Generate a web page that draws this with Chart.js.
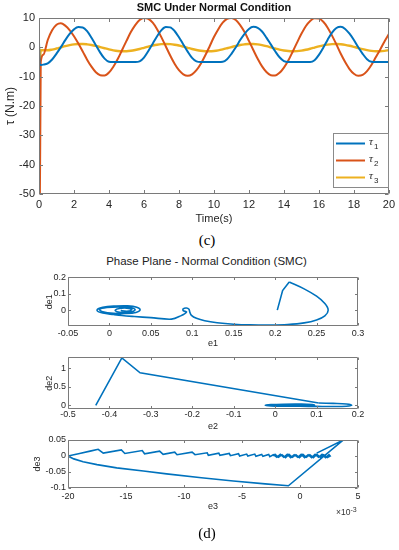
<!DOCTYPE html>
<html>
<head>
<meta charset="utf-8">
<script src="https://cdn.jsdelivr.net/npm/chart.js@4.4.1/dist/chart.umd.min.js"></script>
<style>
  body { margin: 0; background: #fff; }
  #wrap { position: relative; width: 399px; height: 550px; overflow: hidden; font-family: 'Liberation Sans', Arial, sans-serif; }
  canvas { position: absolute; left: 0; }
  .cap { position: absolute; left: 0; width: 414px; text-align: center; font: 15px 'Liberation Serif', serif; line-height: 18px; color: #000; }
  #ppTitle { position: absolute; left: 0; width: 413px; text-align: center; font-size: 11.5px; line-height: 14px; top: 254px; color: #222; }
  #exp { position: absolute; left: 336px; top: 505px; font-size: 8.5px; line-height: 10px; color: #333; }
  #exp sup { font-size: 7px; vertical-align: 3px; }
</style>
</head>
<body>
<div id="wrap">
  <canvas id="torqueChart" width="399" height="228" style="top:0"></canvas>
  <div class="cap" style="top:231px">(c)</div>
  <div id="ppTitle">Phase Plane - Normal Condition (SMC)</div>
  <canvas id="phase1" width="399" height="80" style="top:270px"></canvas>
  <canvas id="phase2" width="399" height="82" style="top:350px"></canvas>
  <canvas id="phase3" width="399" height="82" style="top:432px"></canvas>
  <div id="exp">×10<sup>-3</sup></div>
  <div class="cap" style="top:524px">(d)</div>
</div>
<script>
// ---- (c) torques vs time ----
const tempo = [0, 0.04, 0.1,
  0.25, 0.5, 0.75, 1, 1.25, 1.5, 1.75, 2,
  2.25, 2.5, 2.75, 3, 3.25, 3.5, 3.75, 4,
  4.25, 4.5, 4.75, 5, 5.25, 5.5, 5.75, 6,
  6.25, 6.5, 6.75, 7, 7.25, 7.5, 7.75, 8,
  8.25, 8.5, 8.75, 9, 9.25, 9.5, 9.75, 10,
  10.25, 10.5, 10.75, 11, 11.25, 11.5, 11.75, 12,
  12.25, 12.5, 12.75, 13, 13.25, 13.5, 13.75, 14,
  14.25, 14.5, 14.75, 15, 15.25, 15.5, 15.75, 16,
  16.25, 16.5, 16.75, 17, 17.25, 17.5, 17.75, 18,
  18.25, 18.5, 18.75, 19, 19.25, 19.5, 19.75, 20];

const tau1 = [2, -6, -6,
  -5.9, -5.45, -4.15, -2.16, 0.07, 2.45, 4.57, 6.13,
  6.92, 6.78, 5.5, 3.27, 0.74, -1.8, -3.86, -4.9,
  -5, -5, -5, -5, -5, -5, -4.78, -3.5,
  -1.27, 1.26, 3.8, 5.86, 6.9, 6.8, 5.58, 3.45,
  1.0, -1.46, -3.6, -4.8, -5, -5, -5, -5,
  -5, -4.92, -4.03, -2.22, 0, 2.48, 4.6, 6.28,
  6.98, 6.67, 5.39, 3.32, 1.0, -1.34, -3.39, -4.68,
  -5, -5, -5, -5, -5, -5, -4.38, -2.56,
  -0.1, 2.6, 5.03, 6.6, 6.98, 6.28, 4.64, 2.48,
  0, -2.2, -4.03, -4.92, -5, -5, -5, -5];

const tau2 = [0, -60, -5,
  -2.5, 2.5, 5.8, 7.7, 8.2, 7.4, 5.9, 3.8,
  1.3, -1.4, -4.2, -6.6, -8.5, -9.5, -9.6, -8.6,
  -6.6, -4.0, -0.9, 2.2, 5.2, 7.6, 9.3, 10.0,
  9.7, 8.4, 6.2, 3.4, 0.3, -2.8, -5.6, -7.8,
  -9.2, -9.7, -9.2, -7.8, -5.6, -2.8, 0.3, 3.5,
  6.2, 8.4, 9.7, 10.0, 9.3, 7.6, 5.2, 2.2,
  -0.9, -3.9, -6.5, -8.4, -9.5, -9.6, -8.7, -6.9,
  -4.5, -1.5, 1.6, 4.6, 7.2, 9.0, 9.9, 9.8,
  8.7, 6.7, 4.0, 1.0, -2.2, -5.0, -7.4, -9.0,
  -9.7, -9.4, -8.1, -6.0, -3.4, -0.8, 2.0, 4.5];

const tau3 = [0, -5, -1.0,
  -1.0, -1.0, -0.77, -0.40, 0.0, 0.39, 0.73, 0.99,
  1.13, 1.14, 1.02, 0.79, 0.47, 0.08, -0.32, -0.70,
  -1.02, -1.24, -1.34, -1.32, -1.17, -0.90, -0.56, -0.16,
  0.24, 0.61, 0.90, 1.09, 1.15, 1.09, 0.90, 0.61,
  0.24, -0.16, -0.56, -0.90, -1.17, -1.32, -1.34, -1.24,
  -1.02, -0.70, -0.32, 0.08, 0.47, 0.79, 1.02, 1.14,
  1.13, 0.99, 0.73, 0.39, 0.0, -0.40, -0.77, -1.07,
  -1.27, -1.35, -1.30, -1.12, -0.84, -0.48, -0.08, 0.32,
  0.67, 0.94, 1.11, 1.15, 1.06, 0.85, 0.54, 0.16,
  -0.24, -0.63, -0.96, -1.21, -1.33, -1.33, -1.21, -0.96];

const nomes = ['τ1', 'τ2', 'τ3'];
const cores = ['#0072BD', '#D95319', '#EDB120'];
const tempoTicks = [0, 2, 4, 6, 8, 10, 12, 14, 16, 18, 20];
const tauTicks = [-50, -40, -30, -20, -10, 0, 10];

// ---- (d) phase planes ----
// de1 vs e1: straight start, then the smooth spiral
const e1Ini = [0.2026, 0.209, 0.217];
const de1Ini = [0, 0.12, 0.172];
const e1 = [0.217, 0.235, 0.25, 0.26, 0.264, 0.26, 0.25, 0.235, 0.215, 0.195,
  0.17, 0.15, 0.13, 0.115, 0.105, 0.099, 0.097, 0.096, 0.093, 0.089,
  0.089, 0.093, 0.086, 0.075, 0.05, 0.03, 0.015, 0.005, -0.008, -0.015,
  -0.008, 0.008, 0.022, 0.033, 0.037, 0.032, 0.02, 0.005, -0.008, -0.012,
  -0.003, 0.012, 0.026, 0.031, 0.028, 0.018, 0.009, 0.007, 0.012, 0.021,
  0.027, 0.023, 0.015, 0.014];
const de1 = [0.172, 0.13, 0.085, 0.04, 0, -0.035, -0.06, -0.078, -0.088, -0.091,
  -0.09, -0.086, -0.077, -0.065, -0.05, -0.032, -0.012, 0.005, 0.013, 0.008,
  -0.003, -0.012, -0.035, -0.055, -0.046, -0.039, -0.033, -0.027, -0.018, 0,
  0.017, 0.025, 0.026, 0.018, 0.002, -0.014, -0.021, -0.02, -0.01, 0.005,
  0.016, 0.02, 0.015, 0.004, -0.008, -0.014, -0.01, 0.0, 0.01, 0.012,
  0.004, -0.006, -0.004, 0.001];
const e1Ticks = [-0.05, 0, 0.05, 0.1, 0.15, 0.2, 0.25, 0.3];
const de1Ticks = [0, 0.1, 0.2];

// de2 vs e2
const e2Ini = [-0.433, -0.37, -0.326, 0.105];
const de2Ini = [0, 1.27, 0.87, 0.06];
const e2 = [0.105, 0.14, 0.172, 0.185, 0.172, 0.14, 0.1, 0.06, 0.02, -0.01,
  -0.024, -0.01, 0.02, 0.06, 0.09, 0.095, 0.08, 0.05, 0.015, 0.0,
  0.015, 0.045, 0.07, 0.075, 0.06, 0.04, 0.035];
const de2 = [0.06, 0.05, 0.035, 0, -0.025, -0.032, -0.03, -0.028, -0.025, -0.018,
  0, 0.018, 0.028, 0.03, 0.02, 0, -0.016, -0.022, -0.018, 0,
  0.016, 0.02, 0.012, 0, -0.012, -0.01, 0];
const e2Ticks = [-0.5, -0.4, -0.3, -0.2, -0.1, 0, 0.1, 0.2];
const de2Ticks = [0, 0.5, 1];

// de3 vs e3 (e3 in units of 1e-3)
const e3 = [1.44, 3.73, -1.0, -3.0, -5.75, -8.5, -11.5, -13.5, -15.8, -17.5, -18.7, -19.5, -20,
  -19.0, -18.0, -17.4, -16.96, -15.4, -15.1, -13.6, -13.4, -12.1, -11.8, -10.8, -10.6,
  -9.3, -9.05, -8.0, -7.9, -7.0, -6.9, -6.1, -6.0, -5.3, -5.2, -4.6, -4.5, -3.9, -3.8,
  -3.3, -3.2, -2.7, -2.6,
  -2.3, -2.0, -1.7, -1.4, -1.1, -0.8, -0.5, -0.2, 0.1, 0.4, 0.7, 1.0, 1.3, 1.6, 1.9, 2.2, 2.5,
  2.6, 2.35, 2.05, 1.75, 1.45, 1.15, 0.85, 0.55, 0.25, -0.05, -0.35, -0.65, -0.95, -1.25,
  -1.55, -1.85, -2.15, -2.3];
const de3 = [0.009, 0.05, -0.093, -0.087, -0.078, -0.068, -0.056, -0.047, -0.037, -0.027, -0.018, -0.009, 0,
  0.008, 0.016, 0.021, 0.009, 0.019, 0.008, 0.017, 0.007, 0.015, 0.005, 0.012, 0.004,
  0.012, 0.004, 0.010, 0.002, 0.009, 0.002, 0.008, 0.001, 0.007, 0.0, 0.006, 0.0, 0.006, -0.001,
  0.005, -0.001, 0.005, -0.002,
  0.004, -0.004, 0.005, -0.004, 0.005, -0.005, 0.004, -0.004, 0.005, -0.005, 0.004, -0.005, 0.005, -0.004, 0.005, -0.005, 0.004,
  0.0, -0.005, 0.004, -0.004, 0.005, -0.005, 0.004, -0.004, 0.005, -0.005, 0.004, -0.004, 0.005, -0.005,
  0.004, -0.004, 0.005, 0.0];
const e3Ticks = [-20, -15, -10, -5, 0, 5];
const de3Ticks = [-0.1, -0.05, 0, 0.05];

Chart.defaults.font.family = "'Liberation Sans', Arial, sans-serif";
Chart.defaults.color = '#262626';
Chart.defaults.animation = false;

// caixa e ticks para dentro, estilo matlab
const matlabBox = {
  id: 'matlabBox',
  afterDatasetsDraw(chart, args, opts) {
    const { ctx, chartArea: a, scales } = chart;
    const len = opts.len || 3;
    const L = Math.round(a.left) + 0.5, R = Math.round(a.right) - 0.5;
    const T = Math.round(a.top) + 0.5, B = Math.round(a.bottom) - 0.5;
    ctx.save();
    ctx.strokeStyle = '#7a7a7a';
    ctx.lineWidth = 1;
    ctx.beginPath();
    scales.x.ticks.forEach(t => {
      const px = Math.round(scales.x.getPixelForValue(t.value)) + 0.5;
      ctx.moveTo(px, B); ctx.lineTo(px, B - len);
      ctx.moveTo(px, T); ctx.lineTo(px, T + len);
    });
    scales.y.ticks.forEach(t => {
      const py = Math.round(scales.y.getPixelForValue(t.value)) + 0.5;
      ctx.moveTo(L, py); ctx.lineTo(L + len, py);
      ctx.moveTo(R, py); ctx.lineTo(R - len, py);
    });
    ctx.rect(L, T, R - L, B - T);
    ctx.stroke();
    ctx.restore();
  }
};

// legenda dentro do grafico, canto inferior direito
const legendaBox = {
  id: 'legendaBox',
  afterDraw(chart) {
    const { ctx, chartArea: a } = chart;
    const w = 55, h = 54;
    const x0 = Math.round(a.right) - w - 1, y0 = Math.round(a.bottom) - h - 7;
    ctx.save();
    ctx.fillStyle = '#fff';
    ctx.fillRect(x0, y0, w, h);
    ctx.strokeStyle = '#8a8a8a';
    ctx.lineWidth = 1;
    ctx.strokeRect(x0 + 0.5, y0 + 0.5, w, h);
    chart.data.datasets.forEach((ds, i) => {
      const y = y0 + 10.5 + i * 17;
      ctx.strokeStyle = ds.borderColor;
      ctx.lineWidth = 2;
      ctx.beginPath();
      ctx.moveTo(x0 + 3, y);
      ctx.lineTo(x0 + 32, y);
      ctx.stroke();
      ctx.fillStyle = '#262626';
      ctx.textBaseline = 'middle';
      ctx.font = "italic 11px 'Liberation Serif'";
      ctx.fillText(ds.label.charAt(0), x0 + 36, y - 1);
      ctx.font = "8px 'Liberation Sans'";
      ctx.fillText(ds.label.slice(1), x0 + 41, y + 3);
    });
    ctx.restore();
  }
};

const fmt = v => String(+v.toFixed(3));

function eixo(ticksArr, min, max, fit, extra) {
  return Object.assign({
    type: 'linear',
    min: min,
    max: max,
    border: { display: false },
    grid: { display: true, drawOnChartArea: false, drawTicks: false },
    afterBuildTicks: s => { s.ticks = ticksArr.map(v => ({ value: v })); },
    afterFit: fit
  }, extra);
}

// grafico (c)
const tauSets = [tau1, tau2, tau3].map((serie, i) => ({
  label: nomes[i],
  data: serie.map((v, k) => ({ x: tempo[k], y: v })),
  borderColor: cores[i],
  borderWidth: i === 2 ? 2.4 : 2,
  pointRadius: 0,
  cubicInterpolationMode: 'monotone',
  fill: false
}));

new Chart(document.getElementById('torqueChart'), {
  type: 'line',
  data: { datasets: tauSets },
  plugins: [matlabBox, legendaBox],
  options: {
    responsive: false,
    layout: { padding: { left: 0, right: 8, top: 0, bottom: 0 } },
    plugins: {
      legend: { display: false },
      tooltip: { enabled: false },
      matlabBox: { len: 3.5 },
      title: {
        display: true,
        text: 'SMC Under Normal Condition',
        fullSize: false,
        font: { size: 11, weight: 'bold' },
        color: '#111',
        padding: { top: 1.6, bottom: 3.2 }
      }
    },
    scales: {
      x: eixo(tempoTicks, 0, 20, s => { s.height = 34; }, {
        ticks: { font: { size: 11 }, padding: 4, autoSkip: false, maxRotation: 0, minRotation: 0 },
        title: { display: true, text: 'Time(s)', font: { size: 11 }, padding: { top: 0, bottom: 2.4 } }
      }),
      y: eixo(tauTicks, -50, 10, s => { s.width = 39; }, {
        ticks: { font: { size: 11 }, padding: 4 },
        title: { display: true, text: 'τ (N.m)', font: { size: 12 }, padding: { top: 3, bottom: 0 } }
      })
    }
  }
});

// graficos (d)
function planoFase(id, sets, cfg) {
  return new Chart(document.getElementById(id), {
    type: 'scatter',
    data: {
      datasets: sets.map(s => ({
        data: s.xs.map((v, k) => ({ x: v, y: s.ys[k] })),
        showLine: true,
        borderColor: '#0072BD',
        borderWidth: 1.6,
        pointRadius: 0,
        tension: s.tension
      }))
    },
    plugins: [matlabBox],
    options: {
      responsive: false,
      layout: { padding: { left: cfg.padLeft, right: 41, top: cfg.padTop, bottom: 0 } },
      plugins: { legend: { display: false }, tooltip: { enabled: false }, matlabBox: { len: 2.5 } },
      scales: {
        x: eixo(cfg.xTicks, cfg.xMin, cfg.xMax, s => { s.height = cfg.xHeight; }, {
          ticks: { font: { size: 9 }, padding: cfg.xTickPad, autoSkip: false, maxRotation: 0, minRotation: 0, callback: fmt },
          title: { display: true, text: cfg.xLabel, font: { size: 9 }, padding: { top: 0, bottom: cfg.xTitlePad } }
        }),
        y: eixo(cfg.yTicks, cfg.yMin, cfg.yMax, s => { s.width = 68 - cfg.padLeft; }, {
          ticks: { font: { size: 9 }, padding: 2, callback: fmt },
          title: { display: true, text: cfg.yLabel, font: { size: 9 }, padding: { top: cfg.yTitlePad, bottom: 0 } }
        })
      }
    }
  });
}

planoFase('phase1', [
  { xs: e1Ini, ys: de1Ini, tension: 0 },
  { xs: e1, ys: de1, tension: 0.35 }
], {
  padLeft: 40, padTop: 7, xHeight: 24, xTickPad: 2.6, xTitlePad: 0.6, yTitlePad: 4.6,
  xTicks: e1Ticks, xMin: -0.05, xMax: 0.3, xLabel: 'e1',
  yTicks: de1Ticks, yMin: -0.097, yMax: 0.2, yLabel: 'de1'
});

planoFase('phase2', [
  { xs: e2Ini, ys: de2Ini, tension: 0 },
  { xs: e2, ys: de2, tension: 0.35 }
], {
  padLeft: 40, padTop: 7, xHeight: 23, xTickPad: 0, xTitlePad: 0, yTitlePad: 4.1,
  xTicks: e2Ticks, xMin: -0.5, xMax: 0.2, xLabel: 'e2',
  yTicks: de2Ticks, yMin: -0.1, yMax: 1.285, yLabel: 'de2'
});

planoFase('phase3', [
  { xs: e3, ys: de3, tension: 0 }
], {
  padLeft: 30, padTop: 8, xHeight: 26, xTickPad: 3.3, xTitlePad: 1.9, yTitlePad: 2.4,
  xTicks: e3Ticks, xMin: -20, xMax: 5, xLabel: 'e3',
  yTicks: de3Ticks, yMin: -0.1, yMax: 0.05, yLabel: 'de3'
});
</script>
</body>
</html>
